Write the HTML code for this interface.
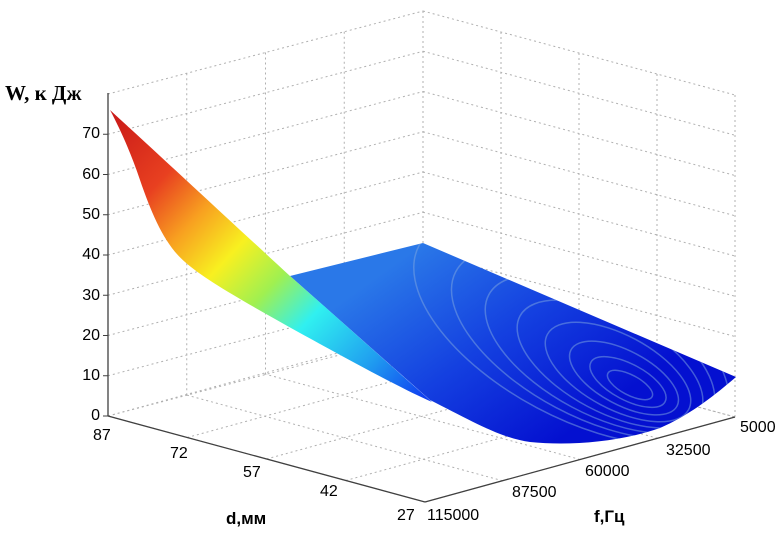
<!DOCTYPE html>
<html><head><meta charset="utf-8"><style>
html,body{margin:0;padding:0;background:#fff;}
svg{display:block;}
text{font-family:"Liberation Sans",sans-serif;font-size:16px;fill:#000;}
.b{font-weight:bold;}
</style></head><body>
<svg width="781" height="537" viewBox="0 0 781 537">
<defs>
<linearGradient id="strip" x1="110" y1="110" x2="420" y2="400" gradientUnits="userSpaceOnUse">
<stop offset="0" stop-color="#c81818"/>
<stop offset="0.2" stop-color="#e84020"/>
<stop offset="0.32" stop-color="#f8a020"/>
<stop offset="0.44" stop-color="#f8f020"/>
<stop offset="0.56" stop-color="#a0f050"/>
<stop offset="0.68" stop-color="#30f0f0"/>
<stop offset="0.85" stop-color="#20a0f0"/>
<stop offset="1" stop-color="#1040f0"/>
</linearGradient>
<linearGradient id="plane" x1="420" y1="245" x2="560" y2="440" gradientUnits="userSpaceOnUse">
<stop offset="0" stop-color="#2a78e8"/>
<stop offset="0.5" stop-color="#1440e0"/>
<stop offset="1" stop-color="#0410d0"/>
</linearGradient>
<clipPath id="pc"><path d="M290,276 L423,243 L736,377 C715,395 690,415 660,428 C620,442 570,446 530,442 C500,438 470,420 430,400 Z"/></clipPath>
</defs>
<g stroke="#b0b0b0" stroke-width="1" stroke-dasharray="2,3" fill="none" id="grid"></g>
<path d="M290,276 L423,243 L736,377 C715,395 690,415 660,428 C620,442 570,446 530,442 C500,438 470,420 430,400 Z" fill="url(#plane)"/>
<g fill="none" stroke="#80a8e0" stroke-width="1.5" opacity="0.5" clip-path="url(#pc)">
<ellipse cx="630" cy="385" rx="25" ry="10" transform="rotate(28 630 385)"/>
<ellipse cx="628" cy="382" rx="42" ry="18" transform="rotate(28 628 382)"/>
<ellipse cx="624" cy="378" rx="60" ry="27" transform="rotate(28 624 378)"/>
<ellipse cx="618" cy="372" rx="80" ry="37" transform="rotate(28 618 372)"/>
<ellipse cx="610" cy="364" rx="102" ry="48" transform="rotate(28 610 364)"/>
<ellipse cx="600" cy="354" rx="126" ry="60" transform="rotate(28 600 354)"/>
<ellipse cx="590" cy="343" rx="152" ry="73" transform="rotate(28 590 343)"/>
<ellipse cx="578" cy="330" rx="180" ry="88" transform="rotate(28 578 330)"/>
</g>
<path d="M110,110 C170,165 240,230 290,276 C340,320 390,365 432,402 C400,388 340,355 300,333 C250,305 205,280 185,262 C165,245 152,215 140,180 C130,150 118,125 110,110 Z" fill="url(#strip)"/>
<g stroke="#404040" stroke-width="1.3" fill="none">
<line x1="108" y1="93" x2="108" y2="416"/>
<line x1="108" y1="416" x2="425" y2="502"/>
<line x1="425" y1="502" x2="735" y2="417"/>
</g>
<g id="ticks" stroke="#404040" stroke-width="1"></g>
<text x="5" y="100" class="b" style="font-family:'Liberation Serif',serif;font-size:21px">W, к Дж</text>
<g text-anchor="end">
<text x="100" y="420">0</text><text x="100" y="380">10</text><text x="100" y="340">20</text>
<text x="100" y="300">30</text><text x="100" y="259">40</text><text x="100" y="219">50</text>
<text x="100" y="179">60</text><text x="100" y="138">70</text>
</g>
<text x="93" y="440">87</text><text x="170" y="458">72</text><text x="243" y="477">57</text>
<text x="320" y="496">42</text><text x="397" y="520">27</text>
<text x="427" y="520">115000</text><text x="512" y="497">87500</text><text x="585" y="476">60000</text>
<text x="666" y="455">32500</text><text x="740" y="432">5000</text>
<text x="226" y="524" class="b" style="font-size:17px">d,мм</text>
<text x="594" y="522" class="b" style="font-size:17px">f,Гц</text>
<script>
var g=document.getElementById('grid'),ns='http://www.w3.org/2000/svg';
function L(a,b,c,d,p){var l=document.createElementNS(ns,'line');l.setAttribute('x1',a);l.setAttribute('y1',b);l.setAttribute('x2',c);l.setAttribute('y2',d);(p||g).appendChild(l);}
var Lx=108,Ly=416,Bx=423,By=333,Rx=735,Ry=417,Fx=425,Fy=502,H=40.25;
for(var k=0;k<=8;k++){var o=k*H;L(Lx,Ly-o,Bx,By-o);L(Bx,By-o,Rx,Ry-o);}
for(var i=0;i<=4;i++){var t=i/4;
L(Lx+(Bx-Lx)*t,Ly+(By-Ly)*t,Lx+(Bx-Lx)*t,Ly+(By-Ly)*t-322);
L(Bx+(Rx-Bx)*t,By+(Ry-By)*t,Bx+(Rx-Bx)*t,By+(Ry-By)*t-322);
var dx=Lx+(Fx-Lx)*t,dy=Ly+(Fy-Ly)*t;L(dx,dy,dx+(Rx-Fx),dy+(Ry-Fy));
var fx=Fx+(Rx-Fx)*t,fy=Fy+(Ry-Fy)*t;L(fx,fy,fx+(Lx-Fx),fy+(Ly-Fy));}
var tk=document.getElementById('ticks');
for(var k=0;k<=7;k++)L(103,Ly-k*H,108,Ly-k*H,tk);
</script>
</svg>
</body></html>
